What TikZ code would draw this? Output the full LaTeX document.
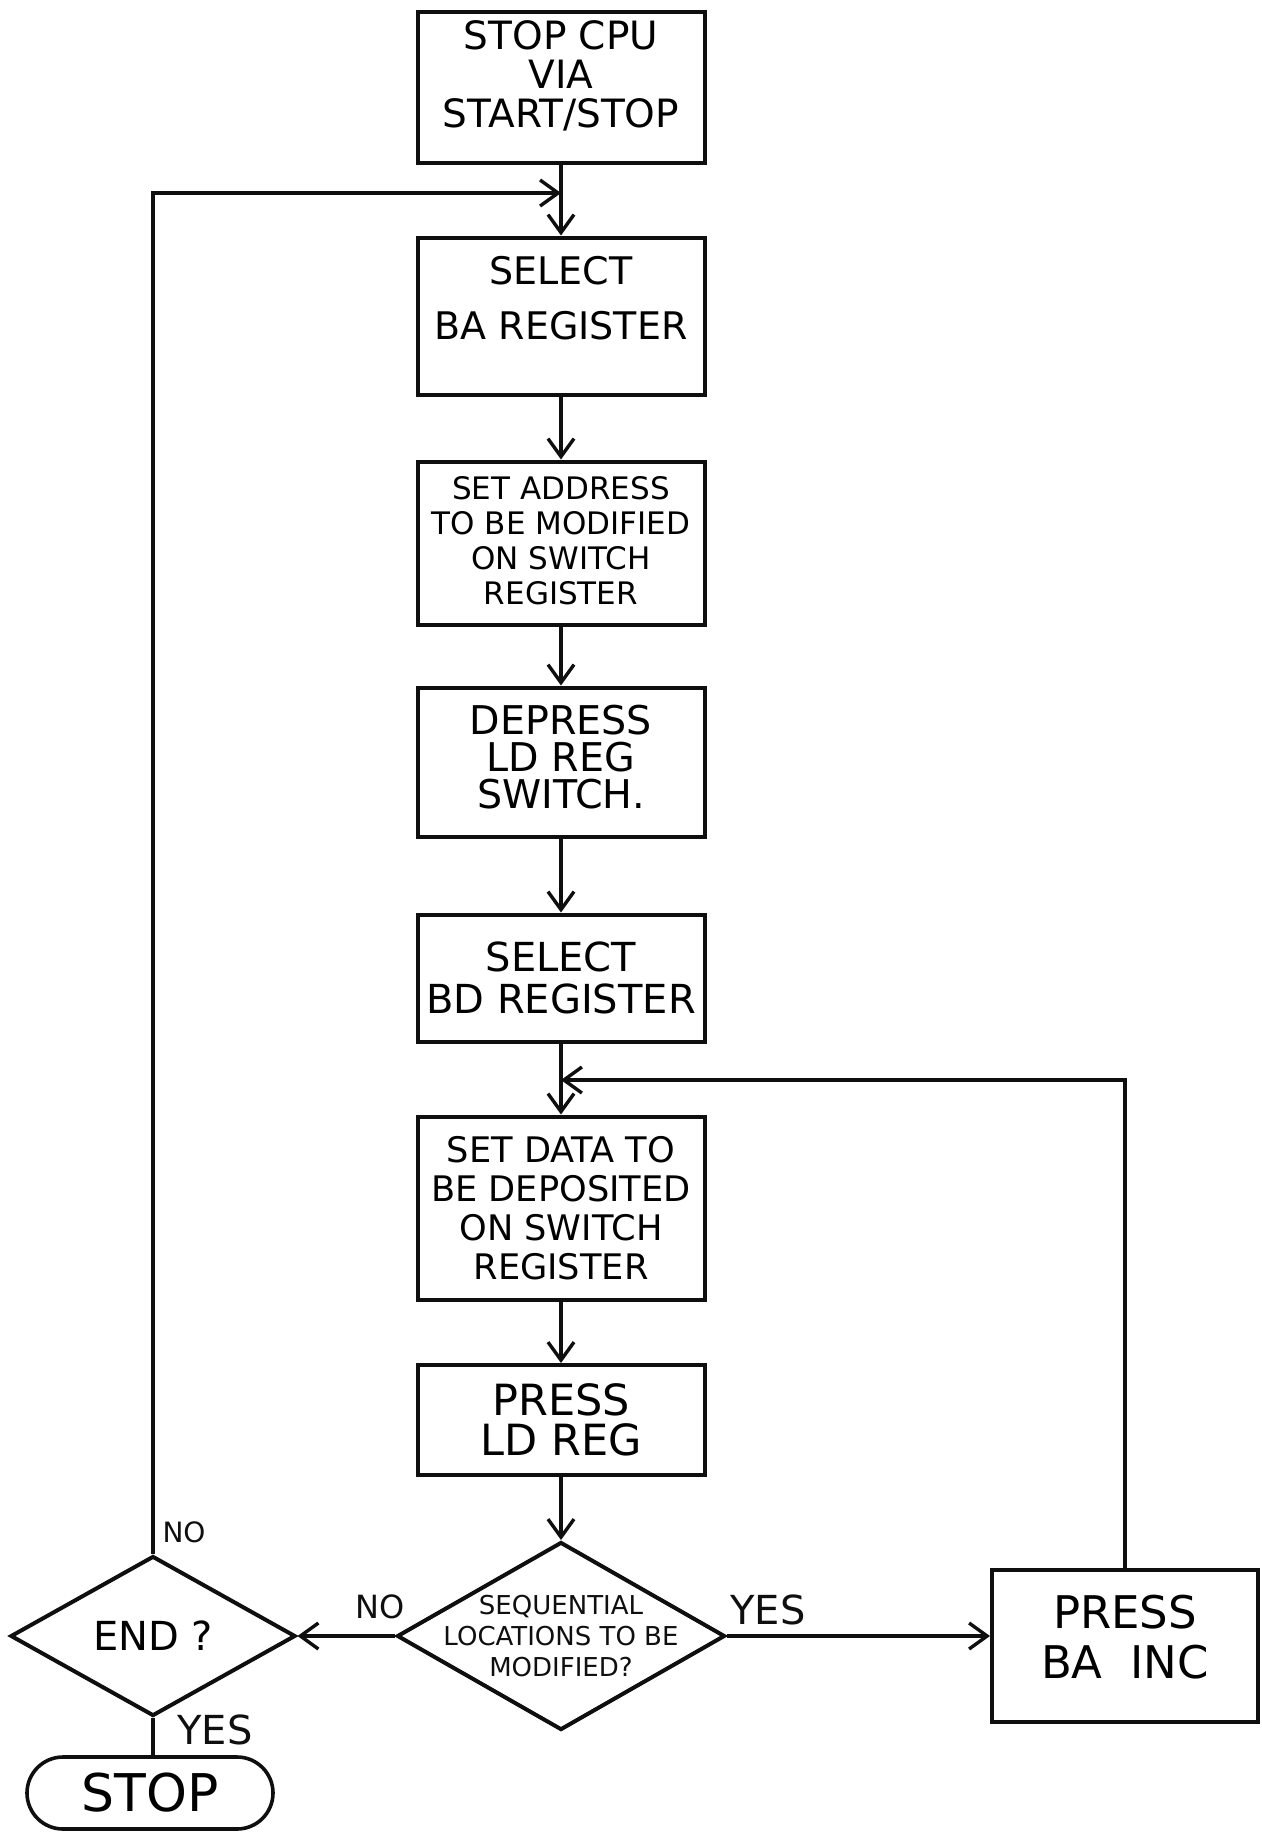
\documentclass[tikz,border=0pt]{standalone}
\usepackage{fontspec}
\setmainfont{DejaVu Sans}
\usetikzlibrary{shapes.geometric,arrows.meta}
\definecolor{inkblack}{RGB}{15, 15, 15}

\begin{document}
\begin{tikzpicture}[x=0.5pt, y=-0.5pt,
    stepbox/.style={draw=inkblack, line width=2pt, minimum width=143.5pt, align=center, inner sep=2pt},
    decision/.style={draw=inkblack, line width=2pt, diamond, inner sep=0pt},
    terminal/.style={draw=inkblack, line width=1.8pt, rounded corners=18pt, minimum width=123pt, minimum height=36pt},
    flow/.style={draw=inkblack, line width=1.7pt, -{Straight Barb[length=9pt, width=13pt, line width=1.7pt]}},
    plain/.style={draw=inkblack, line width=1.7pt},
    flowlabel/.style={text=inkblack, font=\fontsize{20}{22}\selectfont, inner sep=0pt}]
    % Frame to fix the page
    \useasboundingbox (0,0) rectangle (1262,1832);
    % Main column
    \node[stepbox, minimum height=75.5pt, text depth=13pt, font=\fontsize{19.5}{19.5}\selectfont] (stopcpu) at (561, 87) {STOP CPU\\VIA\\START/STOP};
    \node[stepbox, minimum height=78.5pt, text depth=18pt, font=\fontsize{19}{27.5}\selectfont] (selectba) at (561, 316) {SELECT\\BA REGISTER};
    \node[stepbox, minimum height=81.5pt, text depth=3pt, font=\fontsize{15.5}{17.5}\selectfont] (setaddr) at (561, 543) {SET ADDRESS\\TO BE MODIFIED\\ON SWITCH\\REGISTER};
    \node[stepbox, minimum height=74.5pt, text depth=5pt, font=\fontsize{19.8}{18.5}\selectfont] (depress) at (561, 762) {DEPRESS\\LD REG\\SWITCH.};
    \node[stepbox, minimum height=63.5pt, font=\fontsize{20}{21}\selectfont] (selectbd) at (561, 978) {SELECT\\BD REGISTER};
    \node[stepbox, minimum height=91.5pt, font=\fontsize{17.6}{19.5}\selectfont] (setdata) at (561, 1208) {SET DATA TO\\BE DEPOSITED\\ON SWITCH\\REGISTER};
    \node[stepbox, minimum height=55pt, font=\fontsize{21.5}{20}\selectfont] (pressld) at (561, 1420) {PRESS\\LD REG};
    % Decisions
    \node[decision, minimum width=164pt, minimum height=94pt,
          label={[font=\fontsize{13}{15.5}\selectfont, align=center, text=inkblack]center:SEQUENTIAL\\LOCATIONS TO BE\\MODIFIED?}] (seqloc) at (561, 1636) {};
    \node[decision, minimum width=142.5pt, minimum height=80pt, font=\fontsize{20}{22}\selectfont] (enddec) at (153, 1636) {END ?};
    \node[stepbox, minimum width=133pt, minimum height=76pt, text depth=9pt, font=\fontsize{22.5}{25}\selectfont] (bainc) at (1125, 1646) {PRESS\\BA\hspace{0.3em} INC};
    \node[terminal, font=\fontsize{26}{28}\selectfont] (stopend) at (150, 1793) {STOP};
    % Loop ends
    \coordinate (backba) at (561, 193);
    \coordinate (backbd) at (561, 1080);
    % Connectors
    \draw[flow] (stopcpu) -- (selectba);
    \draw[flow] (selectba) -- (setaddr);
    \draw[flow] (setaddr) -- (depress);
    \draw[flow] (depress) -- (selectbd);
    \draw[flow] (selectbd) -- (setdata);
    \draw[flow] (setdata) -- (pressld);
    \draw[flow] (pressld) -- (seqloc);
    \draw[flow] (seqloc.west) -- (enddec.east);
    \draw[flow] (seqloc.east) -- (seqloc.east -| bainc.west);
    \draw[flow] (bainc.north) |- (backbd);
    \draw[flow] (enddec.north) |- (backba);
    \draw[plain] (enddec.south) -- (enddec.south |- stopend.north);
    % Labels
    \node[flowlabel, font=\fontsize{14}{16}\selectfont] (noend) at (184, 1532) {NO};
    \node[flowlabel] (yesend) at (215, 1730) {YES};
    \node[flowlabel, font=\fontsize{16}{18}\selectfont] (noseq) at (380, 1607) {NO};
    \node[flowlabel] (yesseq) at (768, 1610) {YES};
\end{tikzpicture}
\end{document}
